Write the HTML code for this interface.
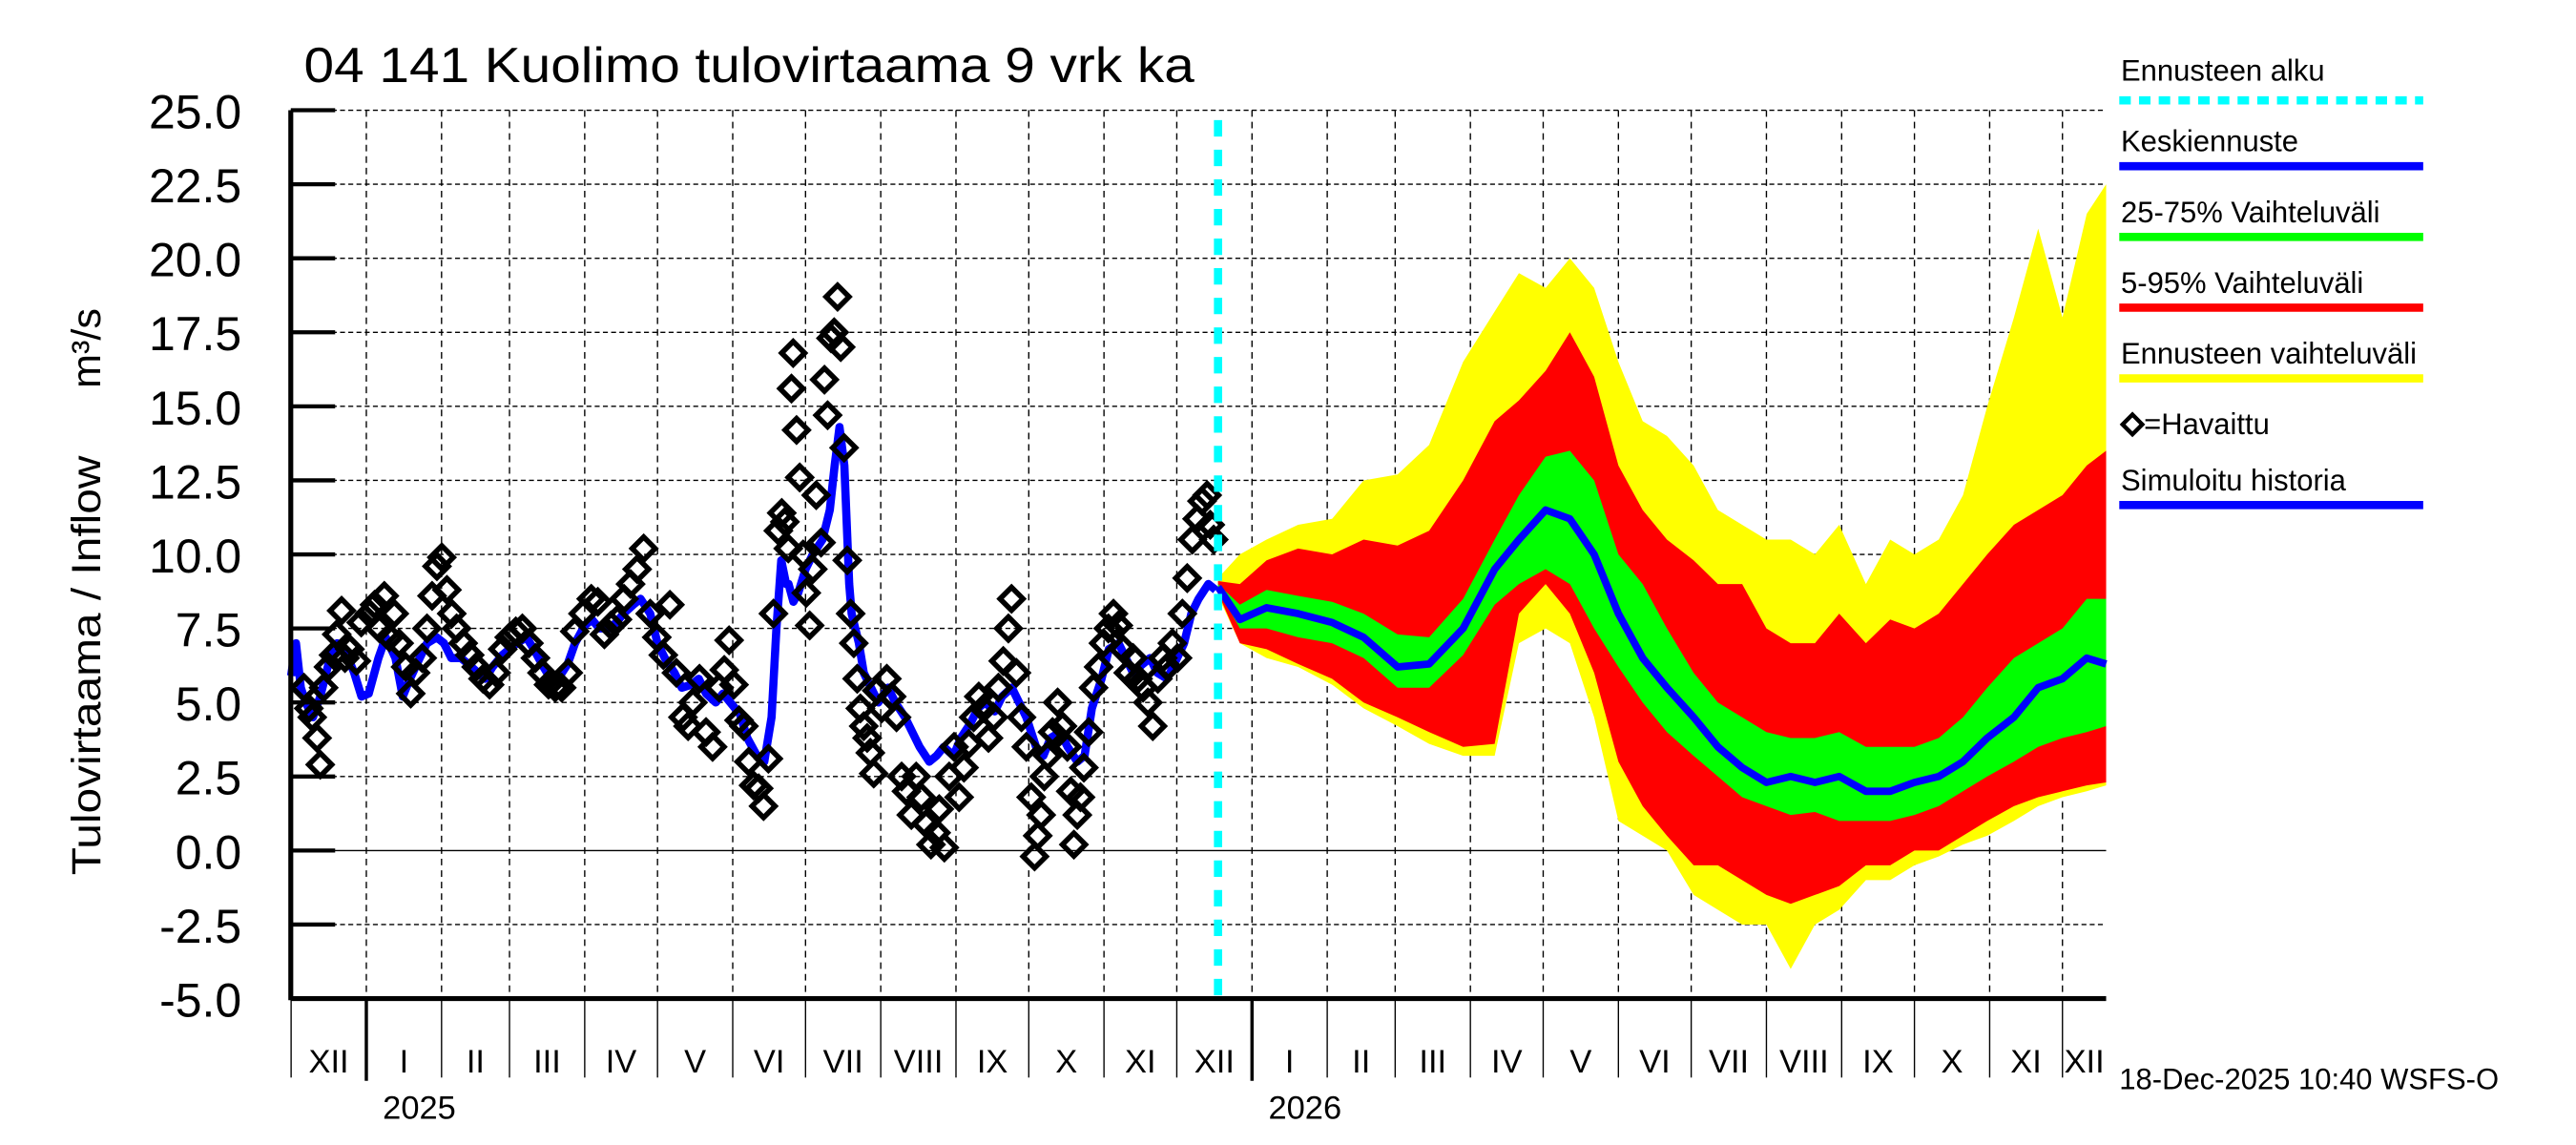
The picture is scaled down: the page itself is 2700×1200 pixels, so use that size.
<!DOCTYPE html>
<html><head><meta charset="utf-8"><style>
html,body{margin:0;padding:0;background:#fff;}
svg{display:block;font-family:"Liberation Sans",sans-serif;}
</style></head><body>
<svg id="chart" width="2700" height="1200" viewBox="0 0 1568 696" preserveAspectRatio="none" xmlns="http://www.w3.org/2000/svg">
<rect x="0" y="0" width="1568" height="696" fill="#fff"/>
<text x="185" y="50" font-size="30" textLength="542" lengthAdjust="spacingAndGlyphs">04 141 Kuolimo tulovirtaama 9 vrk ka</text>
<text transform="translate(61,532) rotate(-90)" font-size="25" textLength="255" lengthAdjust="spacingAndGlyphs">Tulovirtaama / Inflow</text>
<text transform="translate(61,236) rotate(-90)" font-size="25">m³/s</text>
<g id="grid"></g>
<g id="bands"></g>
<g id="series"></g>
<g id="axes"></g>
<g id="legend">
<text x="1291" y="49" font-size="18">Ennusteen alku</text>
<line x1="1290" y1="61" x2="1475" y2="61" stroke="#00ffff" stroke-width="5" stroke-dasharray="7,5"/>
<text x="1291" y="92" font-size="18">Keskiennuste</text>
<line x1="1290" y1="101" x2="1475" y2="101" stroke="#0000ff" stroke-width="5"/>
<text x="1291" y="135" font-size="18">25-75% Vaihteluväli</text>
<line x1="1290" y1="144" x2="1475" y2="144" stroke="#00ff00" stroke-width="5"/>
<text x="1291" y="178" font-size="18">5-95% Vaihteluväli</text>
<line x1="1290" y1="187" x2="1475" y2="187" stroke="#ff0000" stroke-width="5"/>
<text x="1291" y="221" font-size="18">Ennusteen vaihteluväli</text>
<line x1="1290" y1="230" x2="1475" y2="230" stroke="#ffff00" stroke-width="5"/>
<path d="M1292,258 L1298,252 L1304,258 L1298,264 Z" fill="none" stroke="#000" stroke-width="2.5"/>
<text x="1305" y="264" font-size="18">=Havaittu</text>
<text x="1291" y="298" font-size="18">Simuloitu historia</text>
<line x1="1290" y1="307" x2="1475" y2="307" stroke="#0000ff" stroke-width="5"/>
</g>
<text x="1290" y="662" font-size="18">18-Dec-2025 10:40 WSFS-O</text>
</svg>
<script>
// ---- data (days since 2024-12-01) ----
const yTicks = [25.0, 22.5, 20.0, 17.5, 15.0, 12.5, 10.0, 7.5, 5.0, 2.5, 0.0, -2.5, -5.0];
const monthLabels = ["XII","I","II","III","IV","V","VI","VII","VIII","IX","X","XI","XII","I","II","III","IV","V","VI","VII","VIII","IX","X","XI","XII"];
const monthStartDays = [0,31,62,90,121,151,182,212,243,274,304,335,365,396,427,455,486,516,547,577,608,639,669,700,730];
const yearLabels = ["2025","2026"];
const yearStartDays = [31,396];
const forecastStartDay = 382;

const simDays = [0,2,4,6,9,12,16,19,22,26,29,32,36,39,43,46,49,53,56,60,63,66,70,73,77,80,83,87,90,93,97,100,104,107,110,114,117,121,124,127,131,134,137,141,144,148,151,154,158,161,165,168,171,175,178,181,185,188,192,195,198,200,202,204,205,207,209,212,215,219,222,224,226,228,230,231,234,236,239,242,246,249,253,256,259,263,266,269,273,276,280,283,286,290,293,297,300,303,307,310,313,317,320,324,327,330,334,337,341,344,347,351,354,357,361,364,368,371,374,378,381];
const simValues = [5.9,7.0,5.5,5.0,4.5,5.2,6.5,7.0,6.8,6.0,5.2,5.3,6.5,7.2,6.5,5.2,5.8,6.5,7.0,7.2,7.0,6.5,6.5,6.3,6.0,5.8,6.2,6.6,6.8,7.0,7.2,6.8,6.2,5.8,5.8,6.3,7.0,7.6,7.8,7.5,7.5,7.7,8.0,8.3,8.5,8.0,7.0,6.5,6.0,5.5,5.6,5.8,5.3,5.0,5.3,5.0,4.6,3.8,3.2,3.0,4.5,7.5,9.8,9.0,9.0,8.4,8.7,9.5,10.0,10.5,11.5,13.0,14.3,13.0,9.0,8.0,7.0,6.0,5.5,5.0,5.5,5.0,4.5,4.0,3.5,3.0,3.2,3.5,3.2,3.8,4.3,4.8,5.0,4.7,5.2,5.5,5.0,4.5,3.5,3.2,3.8,4.0,3.5,3.0,3.2,4.8,5.8,6.8,7.0,6.5,6.0,6.3,6.5,6.0,5.8,6.3,7.0,8.0,8.5,9.0,8.8];

const obsDays = [5.3,7.3,8.7,10.7,12.0,13.4,15.4,17.5,18.8,20.8,22.2,24.2,26.9,28.9,32.3,34.4,36.4,38.4,40.5,42.5,44.5,47.2,49.3,51.3,54.0,56.0,58.1,60.1,62.1,64.2,66.2,68.2,70.9,73.6,76.3,79.1,81.8,84.5,87.2,89.9,92.6,95.3,98.0,100.7,103.4,106.1,108.8,111.5,114.2,116.9,120.3,123.7,126.4,129.1,131.8,134.5,137.2,139.9,142.6,145.3,148.0,150.7,153.4,156.1,158.8,161.5,163.6,165.6,168.3,171.0,173.7,176.4,178.5,180.5,182.5,184.6,186.6,188.6,190.6,192.7,194.7,196.7,198.8,200.8,202.2,203.5,204.9,206.2,206.9,208.3,209.6,211.0,212.3,213.7,215.0,216.4,218.4,219.8,221.1,222.5,223.8,225.2,226.5,227.9,229.2,230.6,231.9,233.3,234.6,236.0,237.4,238.7,240.1,241.4,243.4,245.5,247.5,249.5,251.6,253.6,255.6,257.6,259.7,261.7,263.7,265.8,267.1,269.2,271.2,273.2,275.3,277.3,279.3,281.3,283.4,285.4,287.4,289.5,291.5,293.5,295.6,296.9,298.9,301.0,303.0,305.0,306.4,307.7,309.1,310.4,311.8,313.8,315.9,317.9,319.9,321.3,322.6,324.0,325.3,326.7,328.7,330.7,332.8,334.8,336.8,338.9,340.9,342.9,345.0,347.0,349.0,351.1,353.1,355.1,357.2,359.2,361.2,363.2,365.3,367.3,369.3,371.4,373.4,375.4,377.5,378.8,380.2];
const obsValues = [5.5,4.8,4.5,3.8,2.9,5.5,6.2,6.6,7.3,8.1,6.5,6.8,6.4,7.7,8.0,8.3,7.5,8.6,7.2,8.0,7.0,6.2,5.3,6.0,6.5,7.5,8.6,9.6,9.9,8.8,8.0,7.5,7.0,6.6,6.2,5.8,5.6,6.0,6.8,7.2,7.4,7.5,7.0,6.5,6.0,5.6,5.5,5.5,6.0,7.4,8.0,8.5,8.4,7.3,7.6,7.8,8.5,9.0,9.5,10.2,8.0,7.2,6.6,8.3,6.0,4.5,4.2,5.0,5.8,4.0,3.5,5.5,6.1,7.1,5.6,4.4,4.2,3.0,2.2,2.1,1.5,3.1,8.0,10.8,11.4,11.1,10.2,15.6,16.8,14.2,12.6,10.0,8.7,7.6,9.5,12.0,10.4,15.9,14.7,17.3,17.5,18.7,17.0,13.6,9.8,8.0,7.0,5.8,4.8,4.2,3.8,3.3,2.6,5.4,4.8,5.8,5.2,4.5,2.5,2.0,1.2,2.5,1.8,0.9,0.2,0.6,1.4,0.1,2.5,3.5,1.8,2.8,3.6,4.5,5.2,4.8,3.8,4.5,5.5,6.4,7.5,8.5,6.0,4.5,3.5,1.8,-0.2,0.5,1.2,2.5,3.2,4.0,5.0,4.2,3.5,2.0,0.2,1.2,1.8,2.8,4.0,5.5,6.2,7.0,7.5,8.0,7.6,6.8,6.0,6.5,5.8,5.5,5.0,4.2,5.8,6.5,6.2,7.0,6.5,8.0,9.2,10.5,11.2,11.8,12.0,11.0,10.5];

const fcDays = [382,391,402,415,429,442,456,469,483,496,506,517,527,537,547,557,567,578,588,598,608,618,628,638,649,659,669,679,689,699,710,720,730,740,748];
const fcMedian = [8.9,7.8,8.2,8.0,7.7,7.2,6.2,6.3,7.5,9.5,10.5,11.5,11.2,10.0,8.0,6.5,5.5,4.5,3.5,2.8,2.3,2.5,2.3,2.5,2.0,2.0,2.3,2.5,3.0,3.8,4.5,5.5,5.8,6.5,6.3];
const fcP25 = [8.8,7.5,7.5,7.2,7.0,6.5,5.5,5.5,6.6,8.3,9.0,9.5,9.0,7.5,6.2,5.0,4.0,3.2,2.5,1.8,1.5,1.2,1.3,1.0,1.0,1.0,1.2,1.5,2.0,2.5,3.0,3.5,3.8,4.0,4.2];
const fcP75 = [9.0,8.3,8.8,8.6,8.4,8.0,7.3,7.2,8.5,10.5,12.0,13.3,13.5,12.5,10.0,9.0,7.5,6.0,5.0,4.5,4.0,3.8,3.8,4.0,3.5,3.5,3.5,3.8,4.5,5.5,6.5,7.0,7.5,8.5,8.5];
const fcP5 = [8.7,7.0,6.8,6.3,5.8,5.0,4.5,4.0,3.5,3.6,8.0,9.0,8.0,6.0,3.0,1.5,0.5,-0.5,-0.5,-1.0,-1.5,-1.8,-1.5,-1.2,-0.5,-0.5,0.0,0.0,0.5,1.0,1.5,1.8,2.0,2.2,2.3];
const fcP95 = [9.1,9.0,9.8,10.2,10.0,10.5,10.3,10.8,12.5,14.5,15.2,16.2,17.5,16.0,13.0,11.5,10.5,9.8,9.0,9.0,7.5,7.0,7.0,8.0,7.0,7.8,7.5,8.0,9.0,10.0,11.0,11.5,12.0,13.0,13.5];
const fcMin = [8.6,7.0,6.5,6.2,5.6,4.8,4.2,3.6,3.2,3.2,7.0,7.5,7.0,4.5,1.0,0.5,0.0,-1.5,-2.0,-2.5,-2.5,-4.0,-2.5,-2.0,-1.0,-1.0,-0.5,-0.2,0.2,0.5,1.0,1.5,1.8,2.0,2.2];
const fcMax = [9.2,10.0,10.5,11.0,11.2,12.5,12.7,13.7,16.5,18.2,19.5,19.0,20.0,19.0,16.5,14.5,14.0,13.0,11.5,11.0,10.5,10.5,10.0,11.0,9.0,10.5,10.0,10.5,12.0,15.0,18.0,21.0,18.0,21.5,22.5];

// ---- axes ----
const X0 = 177.2, PXD = 1.477, PL = 177, PR = 1282, PT = 67, PB = 607;
function xs(d){ return X0 + d*PXD; }
function ys(v){ return PT + (25 - v)*18; }
const NS = "http://www.w3.org/2000/svg";
function mk(tag, attrs, parent){
  const e = document.createElementNS(NS, tag);
  for (const k in attrs) e.setAttribute(k, attrs[k]);
  parent.appendChild(e); return e;
}
const grid = document.getElementById('grid');
const axes = document.getElementById('axes');
const bands = document.getElementById('bands');
const series = document.getElementById('series');

yTicks.forEach(v => {
  const y = ys(v);
  const g = mk('line', {x1:PL, x2:PR, y1:y, y2:y, stroke:'#000', 'stroke-width':0.8, 'stroke-dasharray': v===0 ? 'none' : '3,2'}, grid);
  
  
  const t = mk('line', {x1:PL, x2:PL+27, y1:y, y2:y, stroke:'#000', 'stroke-width':2.5}, axes);
  
  
  const lb = mk('text', {x:147, y:y+11, 'font-size':29, 'text-anchor':'end'}, axes);
  lb.textContent = v.toFixed(1);
  
  
});
monthStartDays.forEach((d, i) => {
  const x = xs(d);
  if (i > 0) {
    const g = mk('line', {x1:x, x2:x, y1:PT, y2:PB, stroke:'#000', 'stroke-width':0.8, 'stroke-dasharray':'4,3'}, grid);
    
    
  }
  const isYear = yearStartDays.indexOf(d) >= 0;
  const s = mk('line', {x1:x, x2:x, y1:PB, y2:isYear?657:655, stroke:'#000', 'stroke-width':isYear?2:0.8}, axes);
  
  
  const next = i+1 < monthStartDays.length ? monthStartDays[i+1] : 748;
  const lb = mk('text', {x:(xs(d)+xs(Math.min(next,748)))/2, y:652, 'font-size':20, 'text-anchor':'middle'}, axes);
  lb.textContent = monthLabels[i];
  
  
});
yearStartDays.forEach((d, i) => {
  const lb = mk('text', {x:xs(d)+10, y:680, 'font-size':20}, axes);
  lb.textContent = yearLabels[i];
  
  
});
const la = mk('line', {x1:PL, x2:PL, y1:PT, y2:PB+1, stroke:'#000', 'stroke-width':3}, axes);


const ba = mk('line', {x1:PL, x2:PR, y1:PB, y2:PB, stroke:'#000', 'stroke-width':3}, axes);



// ---- bands ----
function band(lo, hi, color, name){
  let pts = fcDays.map((d,i)=>xs(d)+','+ys(hi[i]));
  pts = pts.concat(fcDays.map((d,i)=>xs(d)+','+ys(lo[i])).reverse());
  const p = mk('polygon', {points:pts.join(' '), fill:color}, bands);
  
  
}
band(fcMin, fcMax, '#ffff00', 'forecast-range-band');
band(fcP5, fcP95, '#ff0000', 'band-5-95');
band(fcP25, fcP75, '#00ff00', 'band-25-75');
const med = mk('polyline', {points:fcDays.map((d,i)=>xs(d)+','+ys(fcMedian[i])).join(' '), fill:'none', stroke:'#0000ff', 'stroke-width':4.5, 'stroke-linejoin':'round'}, bands);



// ---- simulated history ----
const sim = mk('polyline', {points:simDays.map((d,i)=>xs(d)+','+ys(simValues[i])).join(' '), fill:'none', stroke:'#0000ff', 'stroke-width':5, 'stroke-linejoin':'round'}, series);



// ---- observed ----
const nObs = Math.min(obsDays.length, obsValues.length);
for (let i = 0; i < nObs; i++) {
  const x = xs(obsDays[i]), y = ys(obsValues[i]);
  const p = mk('path', {d:`M${x-7},${y} L${x},${y-7} L${x+7},${y} L${x},${y+7} Z`, fill:'none', stroke:'#000', 'stroke-width':3.2}, series);
  
  
}

// ---- forecast start line ----
const fl = mk('line', {x1:xs(forecastStartDay), x2:xs(forecastStartDay), y1:73, y2:PB, stroke:'#00ffff', 'stroke-width':5, 'stroke-dasharray':'10,8'}, series);


</script>
</body></html>
